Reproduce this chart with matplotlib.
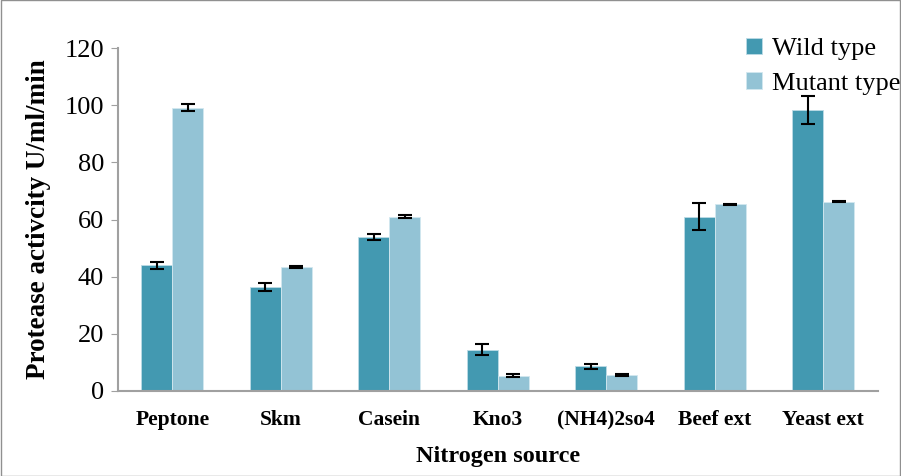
import matplotlib.pyplot as plt
import numpy as np

plt.rcParams['font.family'] = ['Liberation Serif', 'DejaVu Serif']

sources = ["Peptone", "Skm", "Casein", "Kno3", "(NH4)2so4", "Beef ext", "Yeast ext"]
wild = [44.0, 36.5, 54.0, 14.5, 8.7, 61.0, 98.3]
wild_err = [1.2, 1.4, 1.0, 1.8, 0.9, 4.7, 5.0]
mutant = [99.2, 43.5, 61.0, 5.4, 5.7, 65.3, 66.3]
mutant_err = [1.2, 0.4, 0.5, 0.6, 0.3, 0.3, 0.3]

fig = plt.figure(figsize=(9.01, 4.76), dpi=100)
ax = fig.add_axes([0.131, 0.1786, 0.843, 0.7204])

x = np.arange(len(sources))
w = 0.286
ekw = dict(ecolor="black", elinewidth=1.5, capsize=5, capthick=1.5)
ax.bar(x - w / 2, wild, w, yerr=wild_err, color="#4399b1", label="Wild type",
       edgecolor="#bcdbe6", linewidth=0.6, error_kw=ekw)
ax.bar(x + w / 2, mutant, w, yerr=mutant_err, color="#93c3d5", label="Mutant type",
       edgecolor="#d2e8f0", linewidth=0.6, error_kw=ekw)

ax.set_xlim(-0.5, len(sources) - 0.5)
ax.set_ylim(0, 120)
ax.set_yticks(range(0, 121, 20))
ax.set_xticks(x)
ax.set_xticklabels(sources, fontsize=15.5, fontweight="bold")
ax.tick_params(axis="x", length=0, pad=14)
ax.tick_params(axis="y", direction="out", length=5, color="#a0a0a0", labelsize=19, pad=5)

for s in ["top", "right"]:
    ax.spines[s].set_visible(False)
for s in ["left", "bottom"]:
    ax.spines[s].set_color("#a0a0a0")
    ax.spines[s].set_linewidth(1.5)

ax.set_xlabel("Nitrogen source", fontsize=17.5, fontweight="bold", labelpad=11)
ax.set_ylabel("Protease activcity U/ml/min", fontsize=19.5, fontweight="bold", labelpad=10)

ax.legend(loc="upper right", bbox_to_anchor=(1.062, 1.10), frameon=False, fontsize=19,
          handlelength=0.6, handleheight=0.6, handletextpad=0.4, labelspacing=0.45)

fig.patches.append(plt.Rectangle((0.001, 0.001), 0.998, 0.998, transform=fig.transFigure,
                                 fill=False, edgecolor="#909090", linewidth=1))

fig.savefig("out.png", dpi=100)
